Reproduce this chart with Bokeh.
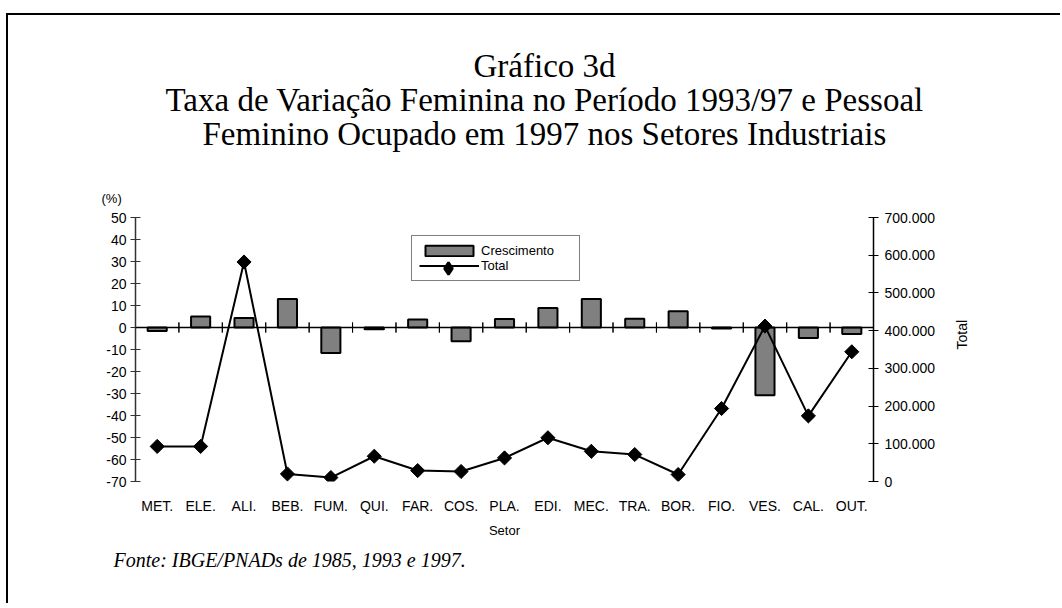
from math import pi
from bokeh.plotting import figure
from bokeh.models import (Range1d, FactorRange, LinearAxis, Span, Title, Legend, LegendItem,
                          FixedTicker, ColumnDataSource)
from bokeh.transform import dodge
from bokeh.embed import file_html
from bokeh.resources import INLINE

setores = ["MET.", "ELE.", "ALI.", "BEB.", "FUM.", "QUI.", "FAR.", "COS.", "PLA.",
           "EDI.", "MEC.", "TRA.", "BOR.", "FIO.", "VES.", "CAL.", "OUT."]
crescimento = [-1.6, 5.0, 4.3, 13.0, -11.6, -0.8, 3.6, -6.2, 3.9,
               8.9, 13.0, 4.0, 7.4, -0.4, -30.8, -4.8, -3.0]
total = [93000, 93000, 582000, 20000, 10500, 67000, 29000, 26500, 62500,
         116000, 80000, 71500, 18500, 193500, 412000, 174000, 344000]

pct_ticks = [-70, -60, -50, -40, -30, -20, -10, 0, 10, 20, 30, 40, 50]
pct_labels = ["-70", "-60", "-50", "-40", "-30", "-20", "-10", "0", "10", "20", "30", "40", "50"]
tot_ticks = [0, 100000, 200000, 300000, 400000, 500000, 600000, 700000]
tot_labels = ["0", "100.000", "200.000", "300.000", "400.000", "500.000", "600.000", "700.000"]

titles = ["Gráfico 3d",
          "Taxa de Variação Feminina no Período 1993/97 e Pessoal",
          "Feminino Ocupado em 1997 nos Setores Industriais"]
fonte = "Fonte: IBGE/PNADs de 1985, 1993 e 1997."

src = ColumnDataSource(dict(setor=setores, cresc=crescimento, total=total))

FONT = "Liberation Sans"
SERIF = "Liberation Serif"

W, H = 1054, 590
p = figure(width=W, height=H, output_backend="svg", toolbar_location=None,
           x_range=FactorRange(*setores), y_range=Range1d(-70, 50),
           min_border_left=127, min_border_right=W - 865, min_border_top=202,
           min_border_bottom=H - 466)
p.styles = {"border-top": "2px solid black", "border-left": "2px solid black",
            "margin-left": "6px", "margin-top": "13px"}
p.outline_line_color = None
p.xgrid.visible = False
p.ygrid.visible = False
p.title.visible = False

p.extra_y_ranges = {"tot": Range1d(0, 700000)}

# bars
bars = p.vbar(x="setor", top="cresc", bottom=0, width=0.44, source=src,
              fill_color="#808080", line_color="black", line_width=2)

# zero axis line + category boundary ticks
p.add_layout(Span(location=0, dimension="width", line_color="black", line_width=1.5))
for off in (-0.5, 0.5):
    p.segment(x0=dodge("setor", off, range=p.x_range), x1=dodge("setor", off, range=p.x_range),
              y0=-2.3, y1=2.3, source=src, line_color="black", line_width=1)

# total line
ln = p.line(x="setor", y="total", source=src, y_range_name="tot", line_color="black", line_width=2)
sc = p.scatter(x="setor", y="total", source=src, y_range_name="tot", marker="square",
               angle=pi / 4, size=10, fill_color="black", line_color="black")
# hidden twin, only used to draw the diamond in the legend
sc_leg = p.scatter(x="setor", y="total", source=src, y_range_name="tot", marker="diamond",
                   size=12, fill_color="black", line_color="black", line_width=2.5, visible=False)

# x axis
xa = p.xaxis[0]
xa.axis_line_color = None
xa.major_tick_line_color = None
xa.minor_tick_line_color = None
xa.major_label_standoff = 10
xa.major_label_text_font = FONT
xa.major_label_text_font_size = "14px"
xa.major_label_text_color = "black"
xa.axis_label = "Setor"
xa.axis_label_text_font = FONT
xa.axis_label_text_font_size = "13px"
xa.axis_label_text_font_style = "normal"
xa.axis_label_text_color = "black"
xa.axis_label_standoff = 6

# left axis
ya = p.yaxis[0]
ya.ticker = FixedTicker(ticks=pct_ticks)
ya.major_label_overrides = dict(zip(pct_ticks, pct_labels))
ya.minor_tick_line_color = None
ya.major_tick_in = 5
ya.major_tick_out = 5
ya.major_label_standoff = 4
ya.axis_line_color = "#333333"
ya.axis_line_width = 1.5
ya.major_tick_line_color = "#333333"
ya.major_label_text_font = FONT
ya.major_label_text_font_size = "14px"
ya.major_label_text_color = "black"

# right axis
ra = LinearAxis(y_range_name="tot", ticker=FixedTicker(ticks=tot_ticks), axis_label="Total")
ra.major_label_overrides = dict(zip(tot_ticks, tot_labels))
ra.minor_tick_line_color = None
ra.major_tick_in = 5
ra.major_tick_out = 5
ra.major_label_standoff = 6
ra.axis_line_color = "black"
ra.axis_line_width = 1.5
ra.major_label_text_font = FONT
ra.major_label_text_font_size = "14px"
ra.major_label_text_color = "black"
ra.axis_label_text_font = FONT
ra.axis_label_text_font_size = "14px"
ra.axis_label_text_font_style = "normal"
ra.axis_label_text_color = "black"
ra.axis_label_standoff = 24
ra.axis_label_orientation = pi / 2
p.add_layout(ra, "right")

# legend (box with bar + line), plus a transparent legend carrying the diamond marker
legend = Legend(items=[LegendItem(label="Crescimento", renderers=[bars]),
                       LegendItem(label="Total", renderers=[ln])],
                location=(276, 200), orientation="vertical",
                border_line_color="black", border_line_width=1,
                padding=7, spacing=0, margin=0, glyph_width=60, glyph_height=13,
                label_height=15, label_width=91, label_standoff=2,
                label_text_font=FONT, label_text_font_size="13px", label_text_color="black")
p.add_layout(legend, "center")
legend_mk = Legend(items=[LegendItem(label=" ", renderers=[sc_leg])],
                   location=(283, 198), orientation="vertical",
                   border_line_color=None, background_fill_alpha=0,
                   padding=0, spacing=0, margin=0, glyph_width=60, glyph_height=30,
                   label_height=30, label_width=1, label_standoff=0,
                   label_text_font_size="1px")
p.add_layout(legend_mk, "center")

# titles above (stacked upward from the frame)
p.add_layout(Title(text="(%)", align="left", offset=-34, vertical_align="bottom", standoff=24,
                   text_font=FONT, text_font_size="13px", text_font_style="normal",
                   text_color="black"), "above")
p.add_layout(Title(text=" ", align="left", vertical_align="bottom", standoff=12,
                   text_font=FONT, text_font_size="10px", text_font_style="normal"), "above")
title_offsets = [338, 30, 67]
for t, off in reversed(list(zip(titles, title_offsets))):
    p.add_layout(Title(text=t, align="left", offset=off, vertical_align="top", standoff=-4,
                       text_font=SERIF, text_font_size="33px", text_font_style="normal",
                       text_color="black"), "above")

# source note below
p.add_layout(Title(text=fonte, align="left", offset=-22, vertical_align="top", standoff=16,
                   text_font=SERIF, text_font_size="20px", text_font_style="italic",
                   text_color="black"), "below")

open("out.html", "w").write(file_html(p, INLINE))
